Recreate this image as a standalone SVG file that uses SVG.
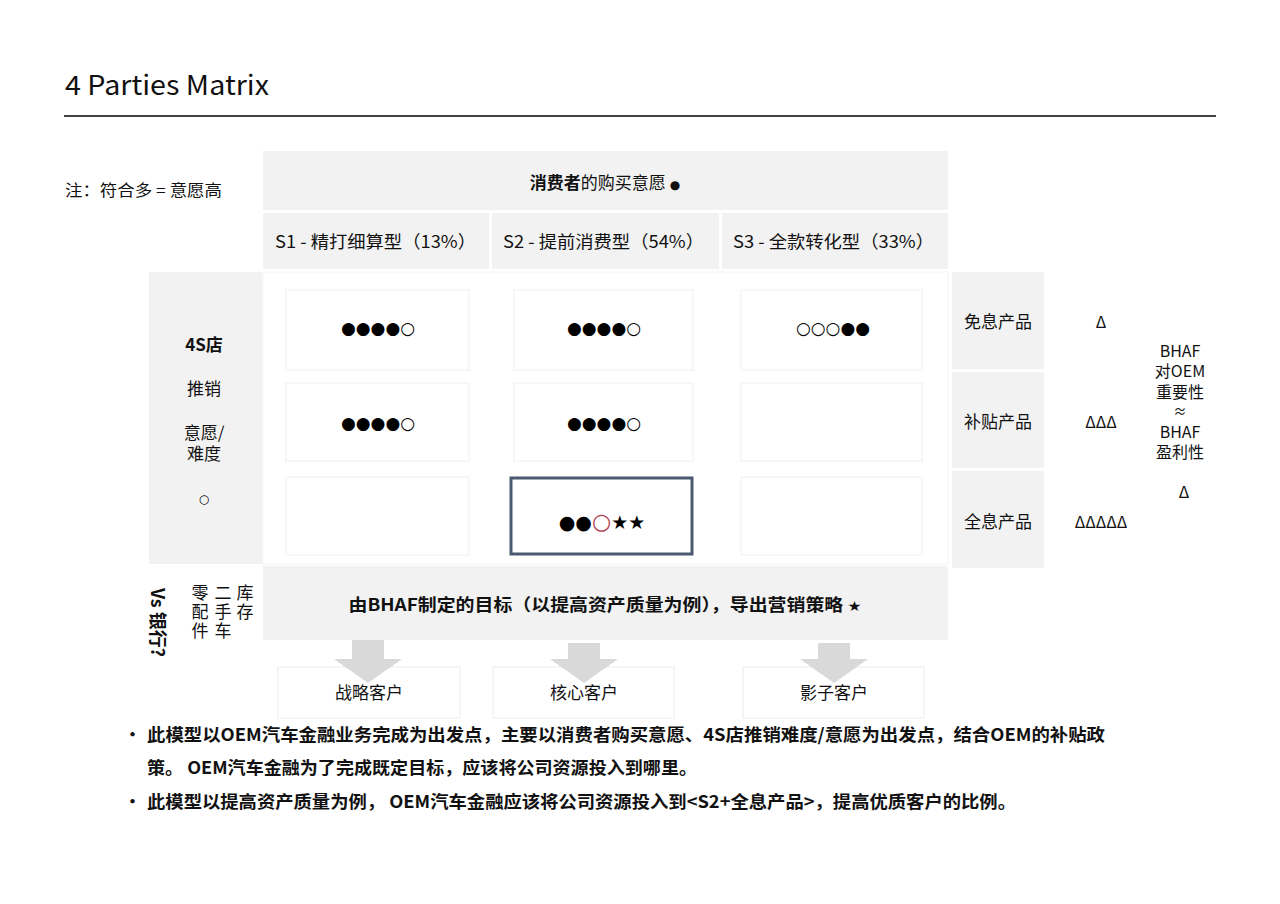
<svg xmlns="http://www.w3.org/2000/svg" width="1280" height="904" viewBox="0 0 1280 904">
<style>
.t{font-family:"Noto Sans CJK SC","Noto Sans",sans-serif;fill:#111;}
.b{font-weight:bold;}
.c{text-anchor:middle;}
.g{fill:#f2f2f2;}
.v{writing-mode:vertical-rl;letter-spacing:2px;}
.cell{fill:#fff;stroke:#f0f0f0;stroke-width:1;}
.dot{font-family:"DejaVu Sans",sans-serif;fill:#000;text-anchor:middle;}
.arr{fill:#d9d9d9;}
.box{fill:#fff;stroke:#ececec;stroke-width:1;}
</style>
<rect width="1280" height="904" fill="#fff"/>
<g id="title">
<text class="t" x="65" y="95" font-size="27" font-family="Noto Sans" textLength="204" lengthAdjust="spacingAndGlyphs">4 Parties Matrix</text>
<line x1="64" y1="116" x2="1216" y2="116" stroke="#404040" stroke-width="2"/>
</g>
<g id="note"><text class="t" x="65" y="196" font-size="16" textLength="157" lengthAdjust="spacingAndGlyphs">注：符合多 = 意愿高</text></g>
<g id="header">
<rect class="g" x="263" y="151" width="685" height="59"/>
<text class="t c" x="605" y="189" font-size="17"><tspan class="b">消费者</tspan>的购买意愿 <tspan font-size="12" font-family="DejaVu Sans">●</tspan></text>
</g>
<g id="s1"><rect class="g" x="263" y="213" width="226" height="56"/><text class="t" x="275" y="248" font-size="17.5" textLength="201" lengthAdjust="spacingAndGlyphs">S1 - 精打细算型（13%）</text></g>
<g id="s2"><rect class="g" x="492" y="213" width="227" height="56"/><text class="t" x="503" y="248" font-size="17.5" textLength="201" lengthAdjust="spacingAndGlyphs">S2 - 提前消费型（54%）</text></g>
<g id="s3"><rect class="g" x="722" y="213" width="226" height="56"/><text class="t" x="733" y="248" font-size="17.5" textLength="201" lengthAdjust="spacingAndGlyphs">S3 - 全款转化型（33%）</text></g>
<g id="dealer">
<rect class="g" x="149" y="272" width="113" height="292"/>
<text class="t c b" x="204" y="351" font-size="17">4S店</text>
<text class="t c" x="204" y="395" font-size="17">推销</text>
<text class="t c" font-size="17"><tspan x="204" y="439">意愿/</tspan><tspan x="204" y="460">难度</tspan></text>
<text class="dot" x="204" y="503" font-size="12">○</text>
</g>
<g id="matrix">
<rect x="263" y="272" width="685" height="292" fill="#fff" stroke="#f3f3f3"/>
</g>
<g id="c11"><rect class="cell" x="286" y="290" width="183" height="80"/><text class="dot" x="378" y="334" font-size="17">●●●●○</text></g>
<g id="c12"><rect class="cell" x="514" y="290" width="179" height="80"/><text class="dot" x="604" y="334" font-size="17">●●●●○</text></g>
<g id="c13"><rect class="cell" x="741" y="290" width="181" height="80"/><text class="dot" x="833" y="334" font-size="17">○○○●●</text></g>
<g id="c21"><rect class="cell" x="286" y="383" width="183" height="78"/><text class="dot" x="378" y="429" font-size="17">●●●●○</text></g>
<g id="c22"><rect class="cell" x="514" y="383" width="179" height="78"/><text class="dot" x="604" y="429" font-size="17">●●●●○</text></g>
<g id="c23"><rect class="cell" x="741" y="383" width="181" height="78"/></g>
<g id="c31"><rect class="cell" x="286" y="477" width="183" height="78"/></g>
<g id="c32"><rect x="511" y="478" width="181" height="76" fill="#fff" stroke="#4b5a72" stroke-width="3"/><text class="dot" x="602" y="529" font-size="19">●●<tspan fill="#b0404f" font-size="22">○</tspan>★★</text></g>
<g id="c33"><rect class="cell" x="741" y="477" width="181" height="78"/></g>
<g id="p1"><rect class="g" x="952" y="272" width="92" height="97"/><text class="t c" x="998" y="328" font-size="17">免息产品</text></g>
<g id="p2"><rect class="g" x="952" y="372" width="92" height="96"/><text class="t c" x="998" y="428" font-size="17">补贴产品</text></g>
<g id="p3"><rect class="g" x="952" y="471" width="92" height="97"/><text class="t c" x="998" y="528" font-size="17">全息产品</text></g>
<g id="d1"><text class="t c" x="1101" y="328" font-size="16" font-family="DejaVu Sans">Δ</text></g>
<g id="d2"><text class="t c" x="1101" y="428" font-size="16" font-family="DejaVu Sans">ΔΔΔ</text></g>
<g id="d3"><text class="t c" x="1101" y="528" font-size="16" font-family="DejaVu Sans">ΔΔΔΔΔ</text></g>
<g id="bhaf">
<text class="t c" font-size="16"><tspan x="1180" y="357">BHAF</tspan><tspan x="1180" y="377">对OEM</tspan><tspan x="1180" y="398">重要性</tspan><tspan x="1180" y="416" font-size="13">≈</tspan><tspan x="1180" y="438">BHAF</tspan><tspan x="1180" y="458">盈利性</tspan></text>
<text class="t c" x="1184" y="498" font-size="16" font-family="DejaVu Sans">Δ</text>
</g>
<g id="others">
<text class="t b" font-size="18" transform="translate(151,588) rotate(90)">Vs 银行?</text>
<text class="t v" x="200" y="584" font-size="17">零配件</text>
<text class="t v" x="223" y="584" font-size="17">二手车</text>
<text class="t v" x="245" y="584" font-size="17">库存</text>
</g>
<g id="goal">
<rect class="g" x="263" y="566" width="685" height="74"/>
<text class="t c b" x="605" y="611" font-size="17" textLength="513" lengthAdjust="spacingAndGlyphs">由BHAF制定的目标（以提高资产质量为例），导出营销策略 <tspan font-weight="normal" font-size="14" font-family="DejaVu Sans">★</tspan></text>
</g>
<g id="k1"><rect class="box" x="278" y="667" width="182" height="51"/><text class="t c" x="369" y="699" font-size="17">战略客户</text></g>
<g id="k2"><rect class="box" x="493" y="667" width="181" height="51"/><text class="t c" x="584" y="699" font-size="17">核心客户</text></g>
<g id="k3"><rect class="box" x="743" y="667" width="181" height="51"/><text class="t c" x="834" y="699" font-size="17">影子客户</text></g>
<g id="connectors">
<polygon class="arr" points="352,640 384,640 384,659 402,659 368,683 334,659 352,659"/>
<polygon class="arr" points="568,643 600,643 600,659 618,659 584,683 550,659 568,659"/>
<polygon class="arr" points="818,643 850,643 850,659 868,659 834,683 800,659 818,659"/>
</g>
<g id="bullets">
<text class="t b" x="124" y="741" font-size="17">•</text>
<text class="t b" x="147" y="741" font-size="17.5" textLength="958" lengthAdjust="spacingAndGlyphs">此模型以OEM汽车金融业务完成为出发点，主要以消费者购买意愿、4S店推销难度/意愿为出发点，结合OEM的补贴政</text>
<text class="t b" x="147" y="774" font-size="17.5" textLength="550" lengthAdjust="spacingAndGlyphs">策。 OEM汽车金融为了完成既定目标，应该将公司资源投入到哪里。</text>
<text class="t b" x="124" y="808" font-size="17">•</text>
<text class="t b" x="147" y="808" font-size="17.5" textLength="869" lengthAdjust="spacingAndGlyphs">此模型以提高资产质量为例， OEM汽车金融应该将公司资源投入到&lt;S2+全息产品&gt;，提高优质客户的比例。</text>
</g>
</svg>
